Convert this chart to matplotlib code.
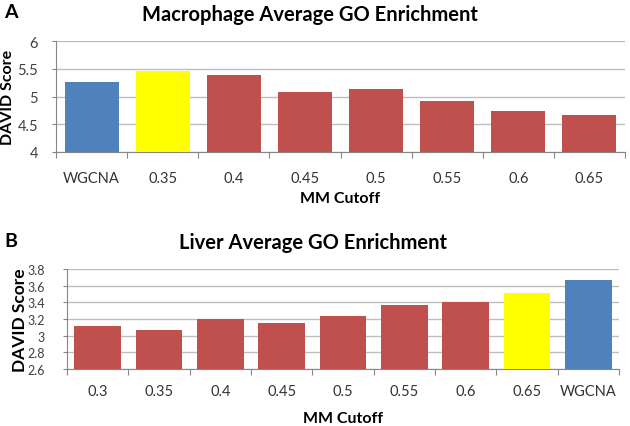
import numpy as np
import matplotlib.pyplot as plt

plt.rcParams['font.family'] = ['Lato', 'DejaVu Sans']

# panel A - macrophage
mac_labels = ['WGCNA', '0.35', '0.4', '0.45', '0.5', '0.55', '0.6', '0.65']
mac_scores = [5.26, 5.46, 5.39, 5.08, 5.13, 4.91, 4.73, 4.67]
mac_colors = ['#4F81BD', '#FFFF00', '#C0504D', '#C0504D', '#C0504D', '#C0504D', '#C0504D', '#C0504D']

# panel B - liver
liv_labels = ['0.3', '0.35', '0.4', '0.45', '0.5', '0.55', '0.6', '0.65', 'WGCNA']
liv_scores = [3.12, 3.07, 3.20, 3.15, 3.24, 3.37, 3.40, 3.51, 3.67]
liv_colors = ['#C0504D'] * 7 + ['#FFFF00', '#4F81BD']

W, H = 630, 427
fig = plt.figure(figsize=(W / 100, H / 100), dpi=100)


def panel(rect, labels, scores, colors, ylim, yticks, ylab_size, ytick_size, xpad, ypad):
    ax = fig.add_axes(rect)
    n = len(labels)
    x = np.arange(n)
    ax.bar(x, np.array(scores) - ylim[0], bottom=ylim[0], width=0.76, color=colors, zorder=3)
    ax.set_xlim(-0.5, n - 0.5)
    ax.set_ylim(*ylim)
    ax.set_yticks(yticks)
    ax.set_yticklabels(['%g' % v for v in yticks], fontsize=ytick_size, color='#404040')
    ax.grid(axis='y', color='#BEBEBE', lw=1.0, zorder=0)
    # category boundaries as major ticks, labels on minor ticks
    ax.set_xticks(np.arange(n + 1) - 0.5)
    ax.set_xticklabels([])
    ax.set_xticks(x, minor=True)
    ax.set_xticklabels(labels, minor=True, fontsize=10.5, color='#333333')
    ax.tick_params(axis='x', which='major', length=4, color='#868686')
    ax.tick_params(axis='x', which='minor', length=0, pad=xpad)
    ax.tick_params(axis='y', length=3, color='#868686', pad=ypad)
    for s in ['top', 'right']:
        ax.spines[s].set_visible(False)
    for s in ['left', 'bottom']:
        ax.spines[s].set_color('#868686')
    ax.set_ylabel('DAVID Score', fontsize=ylab_size, fontweight='bold')
    return ax


axA = panel([56 / W, 1 - 152.7 / H, 569 / W, 110.4 / H], mac_labels, mac_scores, mac_colors,
            (4, 6), [4, 4.5, 5, 5.5, 6], 11.5, 10.5, 14, 10)
axA.set_xlabel('MM Cutoff', fontsize=11.5, fontweight='bold', labelpad=4)
axA.yaxis.set_label_coords(-0.072, 0.5)

axB = panel([67 / W, 1 - 370 / H, 552 / W, 100 / H], liv_labels, liv_scores, liv_colors,
            (2.6, 3.8), [2.6, 2.8, 3.0, 3.2, 3.4, 3.6, 3.8], 12.5, 9, 11, 13)
axB.set_xlabel('MM Cutoff', fontsize=11.5, fontweight='bold', labelpad=9)
axB.yaxis.set_label_coords(-0.07, 0.5)

fig.text(310 / W, 1 - 15 / H, 'Macrophage Average GO Enrichment', fontsize=14.5, fontweight='bold',
         ha='center', va='center')
fig.text(313 / W, 1 - 243 / H, 'Liver Average GO Enrichment', fontsize=14.5, fontweight='bold',
         ha='center', va='center')
fig.text(4 / W, 1 - 12 / H, 'A', fontsize=14, fontweight='bold', ha='left', va='center')
fig.text(4 / W, 1 - 242 / H, 'B', fontsize=14, fontweight='bold', ha='left', va='center')

fig.savefig('out.png', dpi=100)
